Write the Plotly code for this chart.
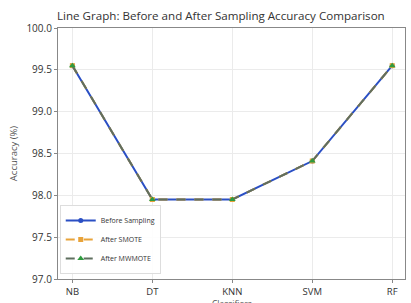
import plotly.graph_objects as go

classifiers = ["NB", "DT", "KNN", "SVM", "RF"]
before_sampling = [99.55, 97.95, 97.95, 98.41, 99.55]
after_smote = [99.55, 97.95, 97.95, 98.41, 99.55]
after_mwmote = [99.55, 97.95, 97.95, 98.41, 99.55]
y_ticks = [97.0, 97.5, 98.0, 98.5, 99.0, 99.5, 100.0]

fig = go.Figure()
fig.add_trace(go.Scatter(x=classifiers, y=before_sampling, name="Before Sampling",
                         mode="lines+markers", line=dict(color="#2a4fc4", width=2),
                         marker=dict(symbol="circle", size=5, color="#2a4fc4")))
fig.add_trace(go.Scatter(x=classifiers, y=after_smote, name="After SMOTE",
                         mode="lines+markers", line=dict(color="#e8a33a", width=2, dash="dash"),
                         marker=dict(symbol="square", size=5, color="#e8a33a")))
fig.add_trace(go.Scatter(x=classifiers, y=after_mwmote, name="After MWMOTE",
                         mode="lines+markers", line=dict(color="#5f6f5f", width=2, dash="dash"),
                         marker=dict(symbol="triangle-up", size=6, color="#2f9a3f")))

axis_common = dict(showline=True, linecolor="#888888", linewidth=1.2, mirror=True,
                   ticks="outside", tickcolor="#888888", ticklen=3, automargin=False,
                   showgrid=True, gridcolor="#ebebeb", gridwidth=1, zeroline=False)

fig.update_layout(
    width=411, height=303,
    margin=dict(l=58, r=6, t=28, b=24),
    paper_bgcolor="white", plot_bgcolor="white",
    title=dict(text="Line Graph: Before and After Sampling Accuracy Comparison",
               x=57 / 411, xref="container", xanchor="left", y=1 - 16 / 303, yanchor="middle",
               yref="container",
               font=dict(size=11.6, color="#333333", family="Open Sans")),
    xaxis=dict(range=[-0.18, 4.16],
               tickfont=dict(size=9.5, color="#333333", family="Open Sans"), **axis_common),
    yaxis=dict(range=[97.0, 100.0], tickvals=y_ticks, ticktext=[f"{v:.1f}" for v in y_ticks],
               tickfont=dict(size=10, color="#333333", family="Open Sans"),
               title=dict(text="Accuracy (%)", standoff=7,
                          font=dict(size=9.5, color="#555555", family="Open Sans")), **axis_common),
    legend=dict(x=0.005, y=0.02, xanchor="left", yanchor="bottom",
                bgcolor="rgba(255,255,255,0.9)", bordercolor="#dddddd", borderwidth=1,
                font=dict(size=7, color="#333333", family="Open Sans"),
                tracegroupgap=0, itemwidth=30),
    showlegend=True,
    annotations=[dict(text="Classifiers", xref="paper", yref="paper", x=0.5, y=-0.066,
                      xanchor="center", yanchor="top", showarrow=False,
                      font=dict(size=8.5, color="#555555", family="Open Sans"))],
)

fig.write_html("out.html", config={"displayModeBar": False},
               post_script="document.body.style.margin='0px';")
